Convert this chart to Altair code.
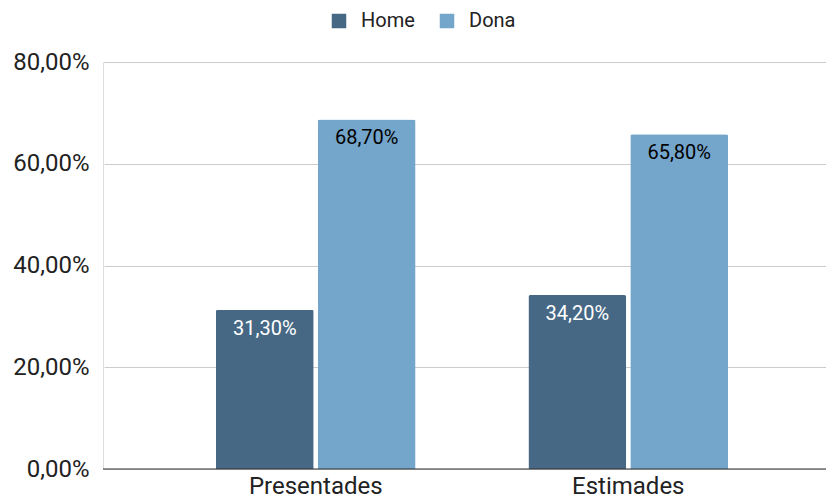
import altair as alt
import pandas as pd

categories = ["Presentades", "Estimades"]
series = ["Home", "Dona"]
home_values = [0.313, 0.342]
dona_values = [0.687, 0.658]
label_home = ["31,30%", "34,20%"]
label_dona = ["68,70%", "65,80%"]
colors = ["#466884", "#74a5cb"]
text_colors = ["#ffffff", "#000000"]

rows = []
for i, c in enumerate(categories):
    rows.append({"cat": c, "series": "Home", "value": home_values[i], "label": label_home[i], "tc": text_colors[0]})
    rows.append({"cat": c, "series": "Dona", "value": dona_values[i], "label": label_dona[i], "tc": text_colors[1]})
df = pd.DataFrame(rows)

FONT = "Roboto"

x = alt.X("cat:N", sort=categories, title=None,
          scale=alt.Scale(paddingInner=0.361, paddingOuter=0.358, range=[1, 737]),
          axis=alt.Axis(labelAngle=0, labelFontSize=24, labelColor="#222222", labelFont=FONT,
                        ticks=False, domain=False, labelPadding=5))
xo = alt.XOffset("series:N", sort=series, scale=alt.Scale(paddingInner=0.04))
y = alt.Y("value:Q", title=None,
          scale=alt.Scale(domain=[0, 0.8]),
          axis=alt.Axis(values=[0, 0.2, 0.4, 0.6, 0.8], labelExpr="replace(format(datum.value*100, '.2f'), '.', ',') + '%'",
                        labelFontSize=24, labelColor="#222222", labelFont=FONT,
                        ticks=False, domain=False, labelPadding=14,
                        gridColor="#cccccc", gridWidth=1))

bars = alt.Chart(df).mark_bar(cornerRadiusTopLeft=2, cornerRadiusTopRight=2).encode(
    x=x, xOffset=xo, y=y,
    color=alt.Color("series:N", sort=series,
                    scale=alt.Scale(domain=series, range=colors),
                    legend=alt.Legend(title=None, orient="none", direction="horizontal",
                                      legendX=226, legendY=-51, symbolType="square",
                                      symbolSize=210, symbolStrokeWidth=0,
                                      labelFontSize=20, labelFont=FONT, labelColor="#222222",
                                      columnPadding=22, labelOffset=12))
)

text = alt.Chart(df).mark_text(baseline="top", dy=9, fontSize=20, font=FONT).encode(
    x=alt.X("cat:N", sort=categories), xOffset=alt.XOffset("series:N", sort=series), y="value:Q",
    text="label:N",
    color=alt.Color("tc:N", scale=None)
)

zero = alt.Chart(pd.DataFrame({"v": [0]})).mark_rule(color="#333333", strokeWidth=1.2).encode(y="v:Q")

chart = alt.layer(bars, text, zero).properties(
    width=723, height=407,
    padding={"left": 95, "top": 54, "right": 0, "bottom": 30},
    autosize=alt.AutoSizeParams(type="none"),
).configure_view(stroke=None).configure(font=FONT)

chart.save("out.html", embed_options={"renderer": "svg", "actions": False})
